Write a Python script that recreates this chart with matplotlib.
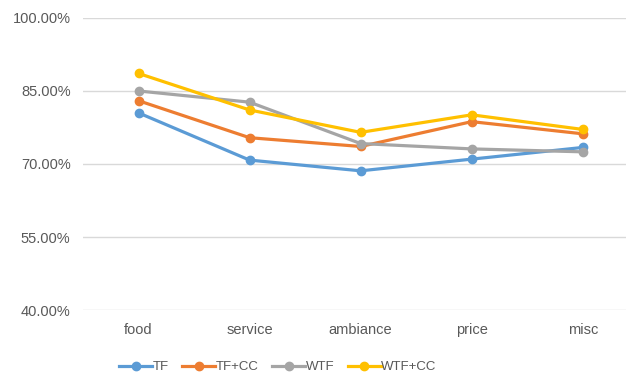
import matplotlib.pyplot as plt
from matplotlib.ticker import PercentFormatter

categories = ['food', 'service', 'ambiance', 'price', 'misc']
tf = [80.5, 70.8, 68.6, 71.0, 73.4]
tf_cc = [83.0, 75.4, 73.6, 78.7, 76.2]
wtf = [85.0, 82.7, 74.2, 73.1, 72.5]
wtf_cc = [88.6, 81.1, 76.5, 80.1, 77.1]

series = [('TF', tf, '#5B9BD5'), ('TF+CC', tf_cc, '#ED7D31'),
          ('WTF', wtf, '#A5A5A5'), ('WTF+CC', wtf_cc, '#FFC000')]

plt.rcParams['font.family'] = ['Liberation Sans', 'DejaVu Sans']

fig = plt.figure(figsize=(6.26, 3.74), dpi=100)
ax = fig.add_axes([0.1326, 0.171, 0.887, 0.781])

x = range(len(categories))
for name, vals, color in series:
    ax.plot(x, vals, color=color, linewidth=2.3, marker='o', markersize=6, label=name)

ax.set_ylim(40, 100)
ax.set_yticks([40, 55, 70, 85, 100])
ax.yaxis.set_major_formatter(PercentFormatter(decimals=2))
ax.set_xlim(-0.5, 4.5)
ax.set_xticks(list(x))
ax.set_xticklabels(categories)
ax.grid(axis='y', color='#D9D9D9', linewidth=1)
ax.set_axisbelow(True)
for s in ax.spines.values():
    s.set_visible(False)
ax.tick_params(length=0, labelsize=10.5, colors='#595959', pad=9)

ax.legend(loc='center', bbox_to_anchor=(278 / 626, 1 - 367 / 374), bbox_transform=fig.transFigure,
          ncol=4, frameon=False, fontsize=9.5, handlelength=2.5, columnspacing=1.0,
          handletextpad=0.05, labelcolor='#595959')

fig.savefig('out.png', dpi=100)
